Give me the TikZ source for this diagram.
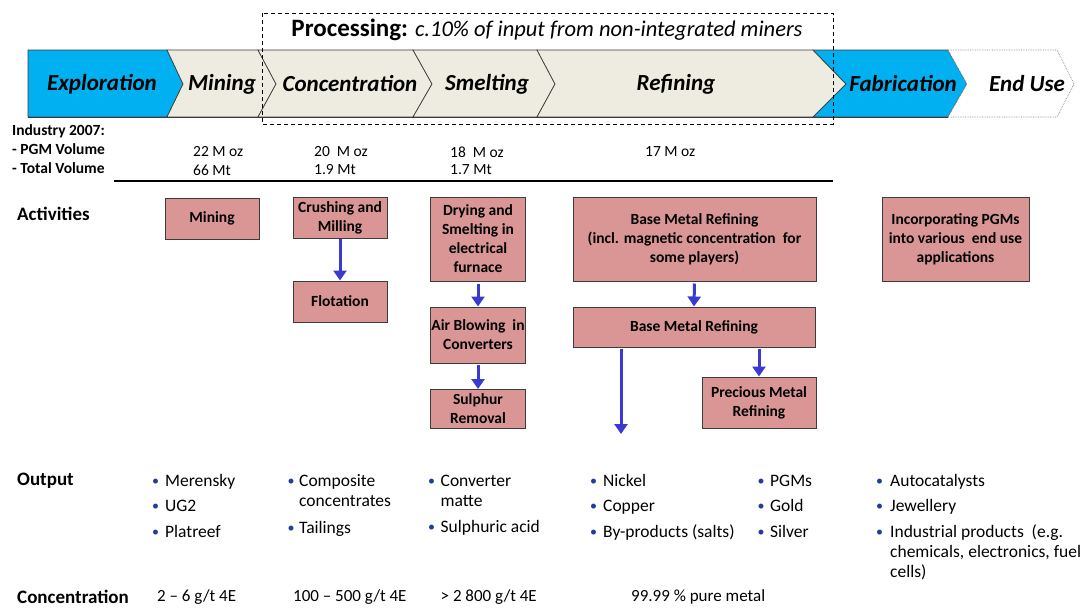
\documentclass[tikz,border=0pt]{standalone}
\usepackage{fontspec}
\setmainfont{Carlito}
\usetikzlibrary{arrows.meta}

\definecolor{chevblue}{RGB}{0,176,240}
\definecolor{chevbeige}{RGB}{238,236,225}
\definecolor{boxred}{RGB}{217,150,148}
\definecolor{flowblue}{RGB}{58,58,208}
\definecolor{bulblue}{RGB}{31,61,153}
\definecolor{edgegray}{RGB}{60,60,60}

\newcommand{\bl}{\textcolor{bulblue}{\raisebox{1pt}{\fs{14}{14}\textbullet}}}
\newcommand{\fs}[2]{\fontsize{#1}{#2}\selectfont}

\tikzset{
  chev/.style={draw=edgegray, line width=0.7pt, line join=miter},
  chevtext/.style={font=\bfseries\itshape\fs{23}{27}, inner sep=0pt},
  procbox/.style={draw=edgegray, line width=1pt, fill=boxred, align=center,
    font=\bfseries\fs{15.5}{19}, inner sep=1pt},
  flow/.style={draw=flowblue, line width=3pt,
    -{Triangle[length=10pt,width=13pt]}},
  rowhead/.style={font=\bfseries\fs{19}{22}, anchor=west, inner sep=0pt},
  indlabel/.style={font=\bfseries\fs{15.5}{18}, anchor=west, inner sep=0pt},
  volume/.style={font=\fs{15.5}{18}, anchor=west, inner sep=0pt},
  outlist/.style={font=\fs{17.5}{20}, anchor=base west, inner sep=0pt},
  conc/.style={font=\fs{17}{20}, anchor=west, inner sep=0pt},
}

\begin{document}
\begin{tikzpicture}[x=1pt, y=-1pt]
\useasboundingbox (0,0) rectangle (1091,608);

% value chain chevrons
\path[chev, fill=chevblue] (28,50) -- (167,50) -- (183,84) -- (167,117) -- (28,117) -- cycle;
\path[chev, fill=chevbeige] (167,50) -- (258,50) -- (276,84) -- (258,117) -- (167,117) -- (183,84) -- cycle;
\path[chev, fill=chevbeige] (258,50) -- (413,50) -- (432,84) -- (413,117) -- (258,117) -- (276,84) -- cycle;
\path[chev, fill=chevbeige] (413,50) -- (537,50) -- (555,84) -- (537,117) -- (413,117) -- (432,84) -- cycle;
\path[chev, fill=chevbeige] (537,50) -- (813,50) -- (846,84) -- (813,117) -- (537,117) -- (555,84) -- cycle;
\path[chev, fill=chevblue] (813,50) -- (948,50) -- (967,84) -- (948,117) -- (813,117) -- (846,84) -- cycle;
\path[draw=gray, line width=0.7pt, densely dotted, fill=white]
  (948,50) -- (1057,50) -- (1074,84) -- (1057,117) -- (948,117) -- (967,84) -- cycle;
\draw[edgegray, line width=1.2pt] (28,117.5) -- (948,117.5);

\node[chevtext] (tExpl) at (102,84) {Exploration};
\node[chevtext] (tMin)  at (222,84) {Mining};
\node[chevtext] (tCon)  at (350,84) {Concentration};
\node[chevtext] (tSme)  at (487,84) {Smelting};
\node[chevtext] (tRef)  at (676,84) {Refining};
\node[chevtext] (tFab)  at (903,84) {Fabrication};
\node[chevtext] (tEnd)  at (1027,84) {End Use};

% processing bracket
\draw[black, line width=0.7pt, dash pattern=on 4pt off 3pt] (262,13) rectangle (833,124);
\node[inner sep=0pt] (proc) at (547,30)
  {{\bfseries\fs{25}{28}Processing:}\hspace{7pt}{\itshape\fs{22.5}{26}c.10\% of input from non-integrated miners}};

% industry volumes
\node[indlabel] (ind)  at (12,131) {Industry 2007:};
\node[indlabel] (pgm)  at (12,149) {- PGM Volume};
\node[indlabel] (tot)  at (12,168) {- Total Volume};
\node[volume] (v1a) at (193,152) {22 M oz};
\node[volume] (v1b) at (193,170) {66 Mt};
\node[volume] (v2a) at (314,152) {20\ \ M oz};
\node[volume] (v2b) at (314,170) {1.9 Mt};
\node[volume] (v3a) at (450,152) {18\ \ M oz};
\node[volume] (v3b) at (450,170) {1.7 Mt};
\node[volume] (v4a) at (645,152) {17 M oz};
\draw[black, line width=1.3pt] (114,181) -- (833,181);

% activities
\node[rowhead] (act) at (17,214) {Activities};
\node[procbox, minimum width=94pt, minimum height=41pt] (mining) at (212,218.5) {Mining};
\node[procbox, minimum width=94pt, minimum height=41pt] (crush) at (340,217.5) {Crushing and\\Milling};
\node[procbox, minimum width=94pt, minimum height=41pt] (flot) at (340,301.5) {Flotation};
\node[procbox, minimum width=95pt, minimum height=84pt] (dry) at (478,239) {Drying and\\Smelting in\\electrical\\furnace};
\node[procbox, minimum width=95pt, minimum height=56pt] (air) at (478,335) {Air Blowing\ \ in\\Converters};
\node[procbox, minimum width=95pt, minimum height=39pt] (sul) at (478,409) {Sulphur\\Removal};
\node[procbox, minimum width=243pt, minimum height=84pt] (bmra) at (694.5,239)
  {Base Metal Refining\\(incl. magnetic concentration\ \ for\\some players)};
\node[procbox, minimum width=242pt, minimum height=40pt] (bmrb) at (694,327) {Base Metal Refining};
\node[procbox, minimum width=114pt, minimum height=51pt] (prec) at (759,402.5) {Precious Metal\\Refining};
\node[procbox, minimum width=147pt, minimum height=84pt] (inc) at (955.5,239)
  {Incorporating PGMs\\into various\ \ end use\\applications};

\draw[flow] (crush.south) -- (flot.north);
\draw[flow, shorten <=2pt] (dry.south) -- (air.north);
\draw[flow, shorten <=1pt] (air.south) -- (sul.north);
\draw[flow, shorten <=2pt] (bmra.south) -- (bmrb.north);
\draw[flow, shorten <=1pt] (prec.north |- bmrb.south) -- (prec.north);
\coordinate (baseout) at (621,434);
\draw[flow, shorten <=1pt] (bmrb.south -| baseout) -- (baseout);

% outputs
\node[rowhead] (outh) at (17,481) {Output};
\node[outlist] (o1) at (152,486) {\begin{tabular}[t]{@{}l@{\hspace{6pt}}l@{}}
  \bl & Merensky\\[5.5pt] \bl & UG2\\[5.5pt] \bl & Platreef\end{tabular}};
\node[outlist] (o2) at (287.5,486) {\begin{tabular}[t]{@{}l@{\hspace{4.5pt}}l@{}}
  \bl & Composite\\ & concentrates\\[7pt] \bl & Tailings\end{tabular}};
\node[outlist] (o3) at (428,486) {\begin{tabular}[t]{@{}l@{\hspace{5.5pt}}l@{}}
  \bl & Converter\\ & matte\\[6pt] \bl & Sulphuric acid\end{tabular}};
\node[outlist] (o4) at (590,486) {\begin{tabular}[t]{@{}l@{\hspace{6pt}}l@{}}
  \bl & Nickel\\[5.5pt] \bl & Copper\\[5.5pt] \bl & By-products (salts)\end{tabular}};
\node[outlist] (o5) at (757.5,486) {\begin{tabular}[t]{@{}l@{\hspace{5.5pt}}l@{}}
  \bl & PGMs\\[5.5pt] \bl & Gold\\[5.5pt] \bl & Silver\end{tabular}};
\node[outlist] (o6) at (876,486) {\begin{tabular}[t]{@{}l@{\hspace{7pt}}l@{}}
  \bl & Autocatalysts\\[5.5pt] \bl & Jewellery\\[5.5pt] \bl & Industrial products\ \ (e.g.\\
   & chemicals, electronics, fuel\\ & cells)\end{tabular}};

% concentrations
\node[rowhead] (conch) at (17,597) {Concentration};
\node[conc] (c1) at (157,597) {2 -- 6 g/t 4E};
\node[conc] (c2) at (293,597) {100 -- 500 g/t 4E};
\node[conc] (c3) at (440.5,597) {> 2 800 g/t 4E};
\node[conc] (c4) at (631,597) {99.99 \% pure metal};
\end{tikzpicture}
\end{document}
